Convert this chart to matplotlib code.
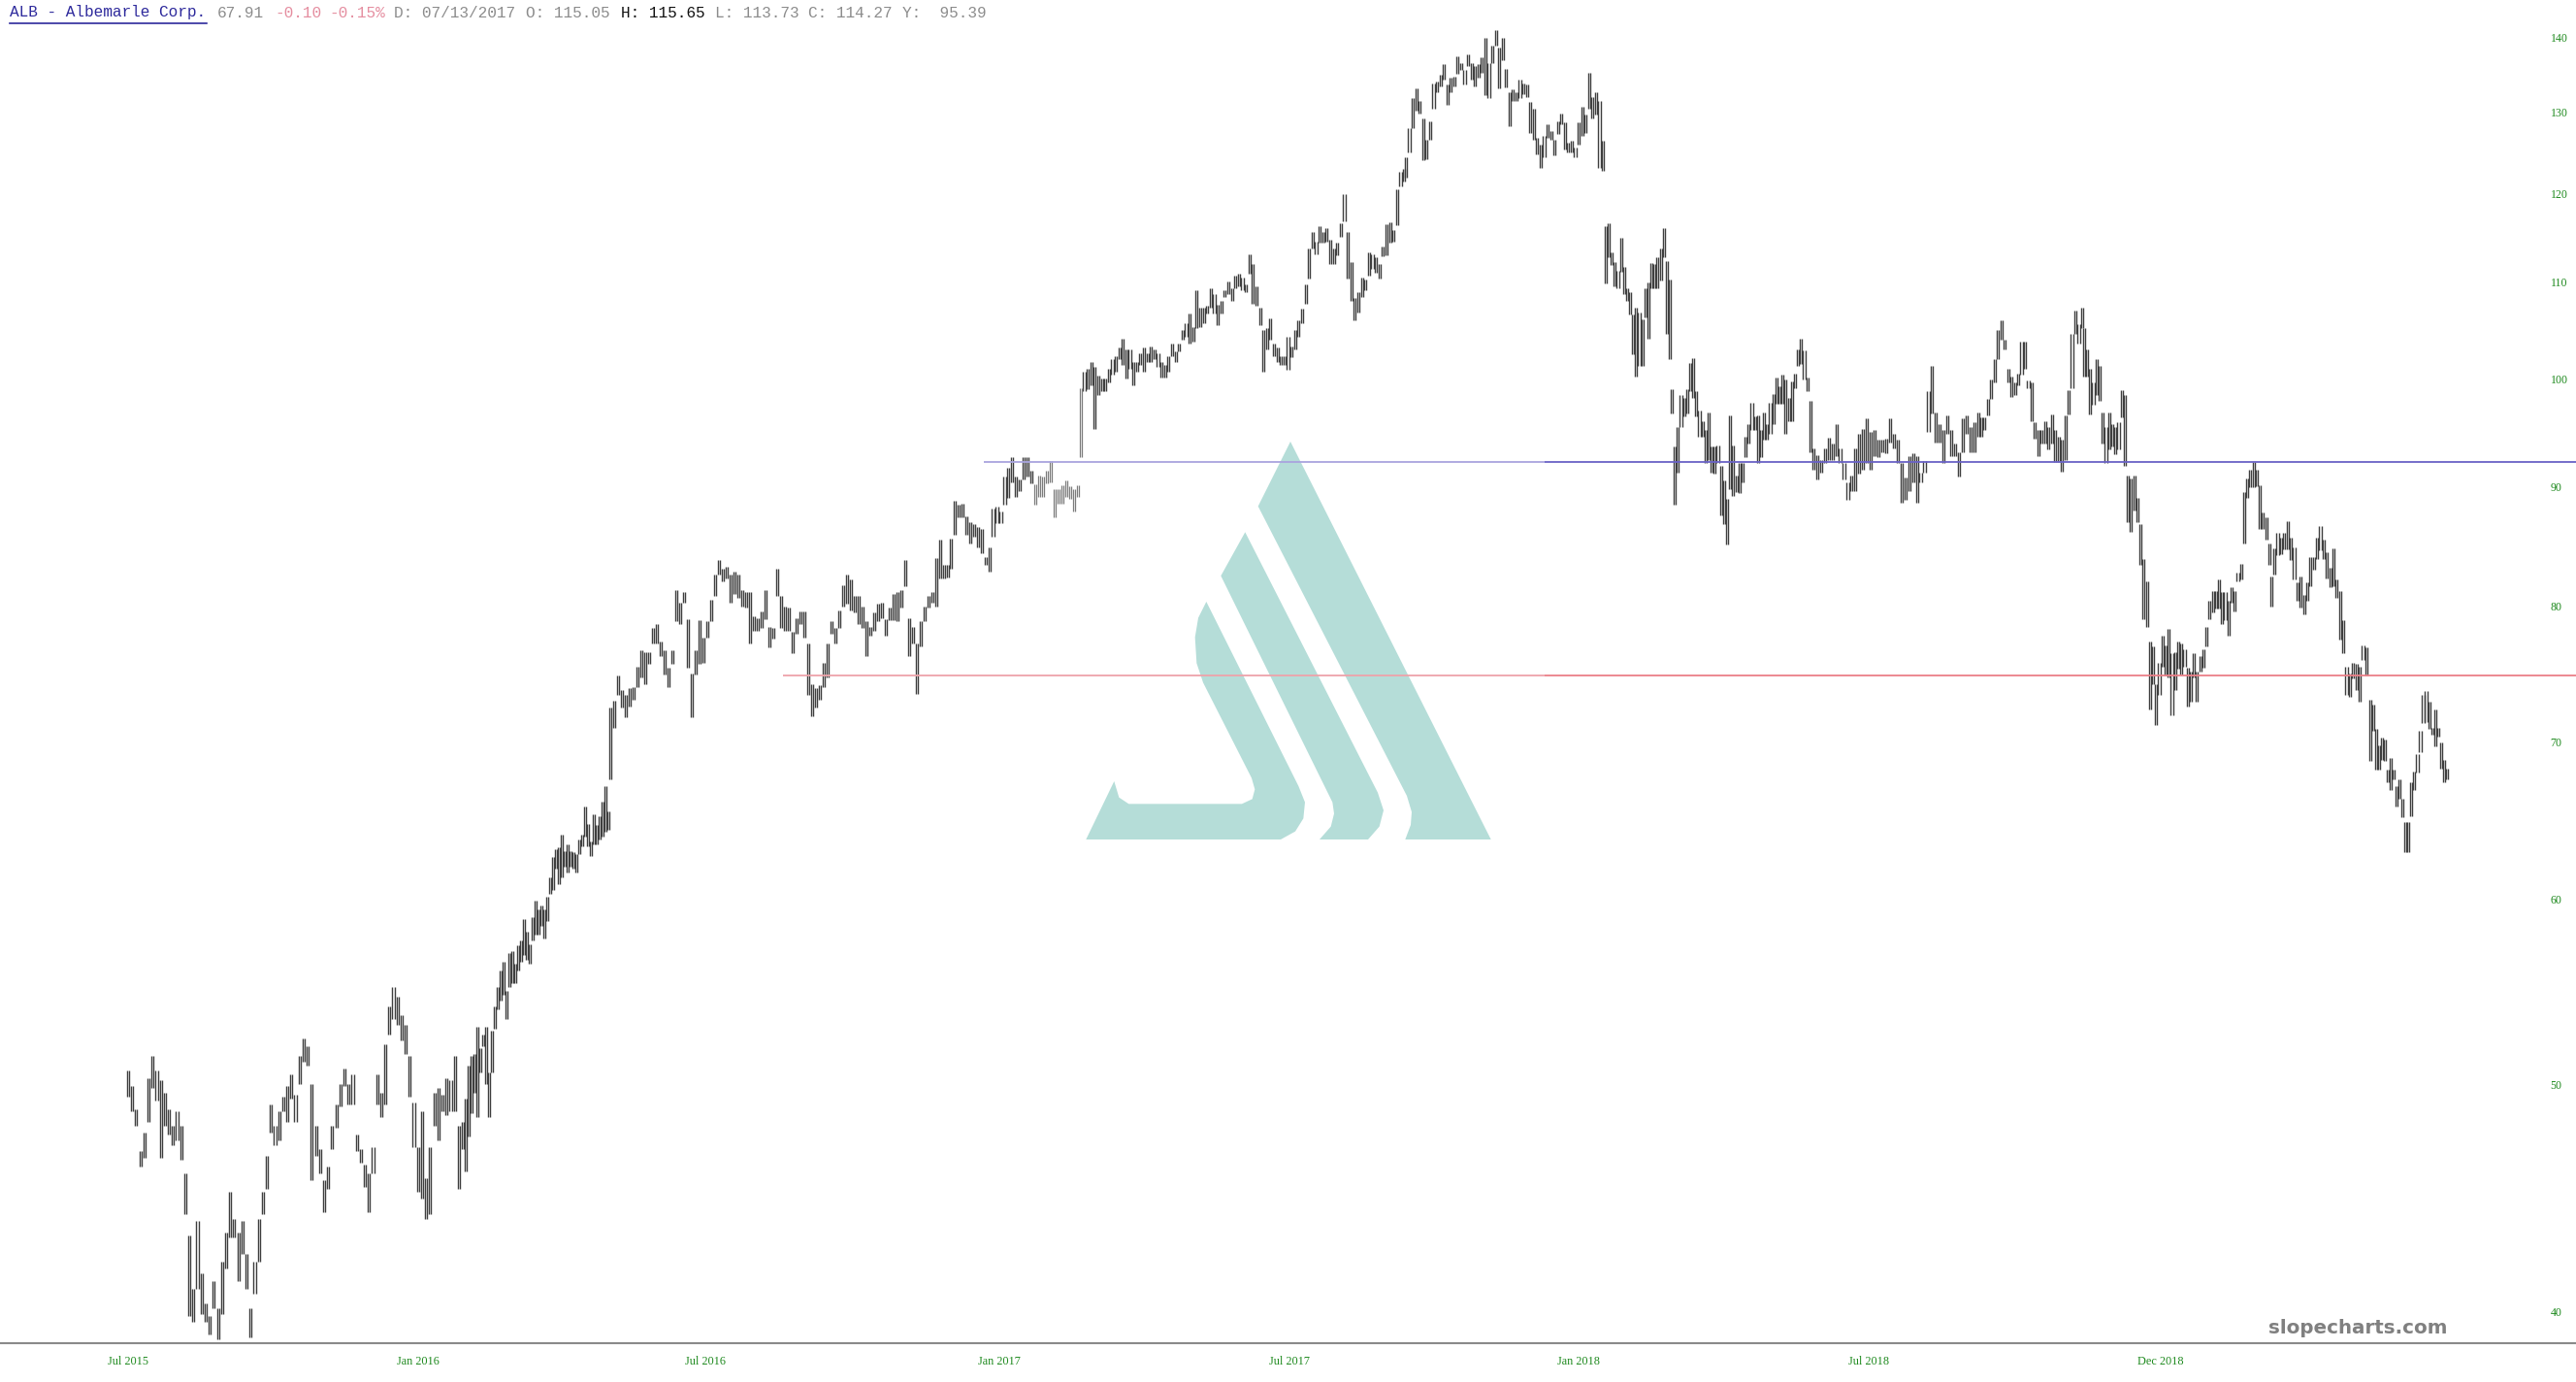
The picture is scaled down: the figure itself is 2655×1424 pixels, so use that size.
import numpy as np
import matplotlib
matplotlib.use("Agg")
import matplotlib.pyplot as plt
from matplotlib.patches import Polygon
from matplotlib.ticker import NullLocator, NullFormatter
from matplotlib.transforms import Affine2D

# (high, low) price readings, in chart order, one list per stretch of the chart
section_1 = [(50.7,49.4),(49.9,48.7),(48.8,48.0),(46.8,46.1),(47.7,46.5),(50.3,48.2),(51.4,49.8),(50.7,49.2),(50.2,46.5),(49.6,48.0),
(48.8,47.6),(48.0,47.1),(48.7,47.3),(48.0,46.4),(45.8,44.0),(43.1,39.8),(40.9,39.6),(43.7,40.9),(41.5,39.9),(40.3,39.6),
(39.8,39.1),(41.2,40.1),(40.1,38.9),(42.0,39.9),(43.2,41.7),(45.0,43.0),(43.8,43.0),(43.2,41.2),(43.7,42.3),(42.3,40.9),
(40.1,39.0),(42.0,40.7),(43.8,42.0),(45.0,44.0),(46.6,45.1),(49.0,47.7),(48.0,47.1),(48.7,47.3),(49.4,48.7),(49.9,48.2),
(50.5,49.3),(49.5,48.2),(51.4,50.0),(52.3,51.1),(51.9,50.9),(50.0,45.5),(48.0,46.6),(46.9,45.8),(45.5,44.1),(46.1,45.1),
(48.0,46.9),(49.0,47.9),(50.0,48.9),(50.8,49.9),(50.0,49.0),(50.5,49.0),(47.6,46.8),(46.9,46.3),(46.2,45.2),(45.8,44.1),
(47.0,45.8),(50.5,49.0),(49.6,48.4),(52.0,49.0),(54.0,52.5),(55.0,53.3),(54.5,53.0),(53.5,52.2),(53.0,51.5),(51.4,49.4),
(49.1,47.0),(47.0,45.0),(48.7,44.7),(45.6,43.8),(47.0,44.0),(49.6,48.0),(49.8,47.3),(49.5,48.7),(50.3,48.5),(50.2,48.7),
(51.4,48.7),(48.0,45.1),(48.2,46.9)]
section_2 = [(49.3,45.9),(50.9,47.5),(51.4,48.6),(51.5,49.6),(52.9,48.4),(51.8,50.6),(52.5,51.9),(52.9,50.0),(50.6,48.4),(52.7,50.6),
(54.0,52.8),(55.0,53.8),(55.9,54.3),(56.4,54.6),(54.8,53.3),(56.9,55.0),(57.0,55.2),(56.3,55.2),(57.3,55.9),(57.6,56.4),
(58.8,56.8),(58.1,56.5),(57.4,56.3),(58.9,57.6),(59.9,57.9),(59.4,57.9),(59.6,58.4),(59.4,57.7),(60.1,58.7),(61.3,60.3),
(62.5,60.5),(63.0,61.8),(63.1,60.9),(63.9,61.3),(62.9,61.9),(63.3,61.6),(62.9,61.9),(62.8,61.8),(62.7,61.6),(63.6,62.7),
(63.9,63.2),(65.7,63.8),(64.6,63.2),(63.5,62.6),(65.2,63.3),(64.5,63.3),(65.1,63.6),(66.0,63.8),(67.0,64.1),(65.4,64.2)]
section_3 = [(72.4,67.5),(72.9,71.0),(74.7,73.3),(73.7,72.4),(73.3,71.7),(73.8,72.5),(73.9,73.0),(75.4,73.9),(76.6,74.6),(76.5,74.1),
(76.5,75.6),(78.3,77.1),(78.6,77.1),(77.3,76.2),(76.6,74.8),(75.3,73.9),(76.6,75.6),(81.3,78.8),(80.3,78.6),(81.1,80.3),
(79.0,75.3),(74.9,71.7),(76.6,74.8),(78.9,75.6),(77.6,75.7),(78.8,77.6),(80.5,78.8),(82.5,80.8),(83.7,82.5),(83.0,82.0),
(83.2,82.2),(82.5,80.3),(82.8,81.0),(82.5,80.7),(81.3,80.0),(81.1,79.9),(81.1,77.1),(79.2,78.1),(79.1,78.1),(79.6,78.3),
(81.3,79.0),(78.4,76.8),(78.3,77.5),(83.0,80.8),(80.8,78.3),(80.0,78.1),(79.9,78.1),(78.0,76.4),(79.1,77.9),(79.6,78.6),
(79.6,77.6),(77.1,73.3),(74.1,71.8),(73.8,72.4),(74.0,73.0),(75.7,73.9),(77.1,74.6),(78.8,77.9),(78.3,77.1),(79.7,78.3),
(81.7,80.0),(82.5,80.2),(82.1,79.7),(80.8,79.5),(80.8,78.6),(80.0,78.3),(78.8,76.2),(78.4,77.7),(79.5,78.1),(80.2,78.8),
(80.3,79.1),(79.0,77.7),(79.9,78.9),(81.0,78.9),(81.1,78.8),(81.3,79.9),(83.7,81.6),(79.1,76.2),(78.4,77.1),(77.1,73.4),
(78.8,76.9),(80.0,78.8),(80.8,79.9),(81.1,80.3),(83.9,80.0),(85.4,82.2),(83.3,82.2),(83.3,82.3)]
section_4 = [(85.5,83.0),(88.7,85.8),(88.4,87.3),(88.5,87.3),(87.4,85.8),(86.9,85.1),(86.7,85.7),(86.5,84.8),(86.3,84.3),(84.0,83.3),
(84.8,82.8),(88.1,85.7),(88.2,86.8),(87.8,86.8),(90.9,88.4),(91.7,89.0),(92.6,90.4),(90.9,89.1),(90.6,89.6),(92.6,90.6),
(92.6,90.9),(91.4,90.3),(90.2,88.4),(91.0,89.1),(90.9,89.1),(91.4,90.3),(92.3,90.4),(89.8,87.3),(89.8,88.5),(90.1,88.5),
(90.5,89.1),(90.0,88.9),(89.8,87.8),(90.1,89.1)]
section_5 = [(99.1,92.6),(100.7,98.8),(101.0,99.0),(101.7,99.4),(101.2,95.2),(100.4,98.5),(100.1,98.8),(100.1,98.8),(101.0,99.7),(102.0,100.5),
(102.3,100.7),(103.2,102.0),(104.1,101.4),(103.0,100.1),(103.0,101.0),(101.7,99.4),(101.7,100.7),(102.6,101.4),(103.2,100.7),(102.6,101.7),
(103.3,101.7),(103.0,102.0),(102.6,101.2),(101.7,100.2),(101.4,100.2),(102.3,100.7),(103.6,102.3),(102.8,101.7),(103.6,102.8),(105.0,104.0),
(105.7,104.3),(106.7,103.6),(105.3,103.8),(109.2,105.2),(107.3,105.3),(107.3,105.7),(107.5,106.7),(109.4,107.3),(108.7,106.7),(107.6,105.5),
(108.0,106.7),(109.2,108.4),(110.1,108.7),(109.4,108.0),(110.7,109.4),(110.9,109.6),(110.5,109.2),(109.8,108.9),(113.1,110.9),(112.0,107.7),
(109.6,107.5),(107.3,105.5),(105.0,100.7),(105.2,103.0),(106.2,104.0),(103.6,102.3),(103.2,101.7),(102.3,101.4),(102.3,101.4),(104.3,100.9),
(103.3,102.2),(105.0,103.0),(106.0,104.3),(107.2,105.7),(109.8,107.7),(113.7,110.4),(115.6,113.7),(114.5,113.1),(116.2,114.4),(115.6,114.4),
(116.0,114.5),(114.7,112.0),(113.7,112.0),(114.4,113.0),(116.6,115.0),(120.0,116.8),(115.6,110.4),(112.2,108.0),(108.3,106.0),(109.0,106.8),
(110.5,108.4),(110.3,109.2),(113.3,110.7),(113.1,111.5),(112.8,111.1),(112.0,110.4),(113.9,112.9),(116.5,113.0),(116.7,114.4),(115.8,114.5),
(120.6,116.4),(122.6,120.9),(123.0,121.5)]
section_6 = [(124.4,121.9),(128.0,125.0),(131.8,128.0),(133.1,130.2),(131.5,129.9),(129.3,124.1),(126.6,124.2),(128.9,126.6),(133.8,130.5),(134.0,132.6),
(134.9,133.4),(136.4,134.3),(133.6,131.0),(134.5,132.6),(134.7,133.4),(137.4,135.1),(136.5,135.6),(135.6,133.6),(137.7,136.1),(136.5,134.3),
(136.1,133.4),(136.4,134.5),(137.2,135.2),(139.9,132.2),(136.5,131.8),(138.8,136.5),(141.0,138.8),(138.6,133.1),(139.9,136.8),(135.7,133.2),
(132.6,128.2),(133.0,131.5),(132.6,131.5),(134.3,131.8),(133.8,132.4),(133.6,132.0),(131.3,127.4),(130.5,126.6),(126.8,124.8),(126.0,123.1),
(127.0,124.4),(128.5,126.8),(127.7,126.6),(126.6,124.6),(128.9,127.3),(129.9,128.5),(128.7,125.4),(126.2,125.0),(126.4,125.0),(125.6,124.4),
(128.7,126.0),(130.7,127.0),(129.7,127.4),(135.2,130.5),(132.0,129.3),(132.6,129.7),(131.5,123.1),(126.4,122.8)]
section_7 = [(116.2,109.9),(116.6,112.8),(113.3,111.9),(112.2,109.6),(111.3,109.4),(114.9,111.2),(111.7,108.7),(109.4,108.0),(109.0,106.6),(106.6,102.5),
(107.3,100.3),(106.8,101.3),(106.1,101.3),(109.4,106.3),(110.0,104.1),(112.1,109.4),(112.0,109.4),(112.8,109.4),(113.7,110.2),(116.0,112.8),
(112.3,104.6),(110.3,102.0)]
section_8 = [(99.0,96.7),(93.6,88.4),(95.4,91.2),(98.5,95.4),(98.2,96.4),(99.0,96.7),(101.6,98.8),(102.1,98.2),
(98.8,96.4),(97.0,94.5),(96.0,94.5),(95.1,92.1),(96.8,92.4),(93.6,91.2),(93.6,91.1),(93.7,92.1),(91.8,87.5),(90.5,86.7),
(88.9,85.0),(96.5,89.8),(93.7,89.2),(91.0,89.5),(92.1,89.4),(92.1,90.4),(94.5,92.6),(95.7,93.9),(97.7,95.1),(96.4,95.1),
(96.5,92.1),(95.1,92.6),(96.8,94.2),(95.7,94.2),(97.7,94.8),(98.6,95.7),(100.2,97.6),(99.3,97.6),(100.5,97.6),(100.0,94.8),
(98.2,96.0),(99.8,96.0),(100.6,99.1),(103.0,101.3),(104.1,101.5),(102.9,100.0),(100.2,98.8),(97.9,93.1)]
section_9 = [(93.4,91.5),(92.8,90.6),
(92.4,91.2),(93.4,92.1),(94.4,92.4),(93.9,92.4),(95.7,92.7),(93.4,92.1),(92.1,90.6),(90.4,88.8),(91.0,89.6),(93.4,89.6),
(94.8,91.1),(95.2,91.5),(96.2,92.1),(95.0,91.5),(95.1,92.7),(94.2,92.6),(94.2,93.1),(94.3,93.0),(96.2,94.0),(94.8,93.4),
(94.2,92.1),(92.1,88.6),(90.8,88.8),(92.7,89.6),(93.0,90.4),(92.7,88.6),(91.2,90.4),(92.3,91.2),(98.8,95.0),(101.3,96.7),
(96.8,94.0),(95.7,94.0),(95.1,92.1),(96.5,94.8),(95.1,92.7),(93.9,92.7),(93.1,90.9),(96.2,93.1),(96.5,94.8),(95.4,93.1),
(95.9,93.1),(96.8,94.5)]
section_10 = [(96.3,94.5),(96.3,95.1),(98.1,96.5),(100.0,98.1),(102.0,99.7),(105.0,102.0),(106.0,104.0),(104.0,103.0),(101.0,99.7),(100.3,98.3),
(99.7,98.5),(100.6,99.4),(103.8,100.5),(103.8,101.0),(99.9,99.1),(99.7,96.0),(95.9,94.3),(95.1,92.7),(95.1,93.9),(96.0,93.9),
(95.4,93.3),(96.6,93.9),(95.1,92.2),(94.5,92.2),(94.2,91.3),(96.5,92.4),(98.9,96.6),(104.6,99.1),(107.0,104.6),(105.6,103.6),
(107.3,105.2)]
section_11 = [(105.2,100.3),(103.0,100.3),(101.0,96.6),(99.7,97.5),(102.0,98.5),(101.3,97.9),(96.8,93.9),(95.4,92.1),(96.8,93.3),
(95.7,93.6),(95.4,92.9),(95.9,93.3),(98.9,96.3),(98.5,91.8),(91.0,86.9),(90.7,86.1),(91.0,87.9),(89.0,86.9),(86.7,83.3),
(83.8,79.0),(82.0,78.4),(77.3,72.3),(76.9,74.1),(74.1,71.2),(75.7,73.3),(77.7,75.4),(77.0,74.7),(78.2,74.6),(76.4,71.9),
(76.5,73.7),(77.3,75.2),(77.1,74.8),(76.7,75.4),(75.3,72.5),(75.0,72.8),(76.4,74.6),(75.0,72.8),(76.2,75.0),(76.7,75.3),
(78.4,76.9),(80.4,79.0),(81.2,79.5),(81.2,79.8),(82.1,79.8),(81.1,78.6),(81.1,78.9),(80.4,77.7),(81.5,80.3),(81.2,79.6),
(82.7,82.0),(83.4,82.1),(89.5,85.1),(90.7,89.0),(91.5,89.9),(92.2,89.9),(91.5,90.0),(90.1,86.3),(87.7,86.3),(87.3,85.4),
(85.1,83.3)]
section_12 = [(82.4,80.0),(84.7,82.5),(86.0,84.1),(85.6,84.2),(86.0,84.6),(87.0,84.6),(85.6,83.7),(84.8,82.1),(81.9,80.4),(82.4,79.9),
(80.9,79.4),(81.9,80.4),(84.0,81.6),(84.0,82.9),(85.6,83.8),(86.6,84.5),(85.4,83.8),(84.4,82.2),(83.1,81.5),(84.7,81.6),
(82.1,80.7),(81.2,77.4),(78.9,76.4),(75.4,73.3),(74.9,73.2),(75.7,74.5),(75.6,73.7),(75.4,72.8),(77.0,75.9),(76.8,74.7)]
section_13 = [(73.0,68.7),(72.6,70.8),(70.9,68.1),(69.8,68.1),(70.3,68.8),(70.2,68.7),(68.1,67.3),(68.9,66.8),(68.1,67.5),(67.0,65.7),
(67.5,66.2),(66.2,65.0),(64.7,62.8),(64.7,62.8),(67.3,65.1),(68.0,66.8),(69.2,67.9),(70.8,69.3),(73.3,71.3),(73.6,71.4),
(72.8,70.9),(71.0,70.5),(72.3,69.7),(71.0,70.4),(70.0,68.2),(68.8,67.3),(68.2,67.5)]

# first and last trading day (counted from Jul 2015) each stretch covers
section_first_day = [0.0, 146.8, 209.7, 357.8, 414.3, 555.7, 642.6, 671.3, 732.9, 805.9, 850.6, 932.0, 975.1]
section_last_day = [145.6, 208.9, 356.5, 413.0, 554.9, 641.4, 670.5, 731.6, 804.6, 849.8, 931.2, 973.4, 1008.4]

date_days = [0, 126, 251, 379, 505, 631, 757, 884]
date_labels = ["Jul 2015", "Jan 2016", "Jul 2016", "Jan 2017", "Jul 2017", "Jan 2018", "Jul 2018", "Dec 2018"]
price_ticks = [40, 50, 60, 70, 80, 90, 100, 110, 120, 130, 140]

resistance_price = 92.2
support_price = 74.7
resistance_start_day, support_start_day, strong_line_day = 372, 285, 616

sections = [section_1, section_2, section_3, section_4, section_5, section_6, section_7, section_8, section_9,
            section_10, section_11, section_12, section_13]

W, H = 2655, 1424
fig = plt.figure(figsize=(W / 100, H / 100), dpi=100, facecolor="white")
AXIS_Y = 1384
ax = fig.add_axes([0, (H - AXIS_Y) / H, 1, AXIS_Y / H], facecolor="none", zorder=2)
ax.set_yscale("log")
ax.set_xlim(-55.7, 1064.6)
ax.set_ylim(38.76, 145.2)

bar_days, bar_high, bar_low = [], [], []
for sec, a, b in zip(sections, section_first_day, section_last_day):
    bar_days.append(np.linspace(a, b, len(sec)))
    bar_high.append([p[0] for p in sec])
    bar_low.append([p[1] for p in sec])
bar_days = np.concatenate(bar_days)
bar_high = np.concatenate(bar_high)
bar_low = np.concatenate(bar_low)
light = (bar_days > 394) & (bar_days < 415)


def draw_bars(mask, color, lw):
    # each reading stands for the two neighbouring daily bars it was read from
    for off in (-0.45, 0.45):
        ax.vlines(bar_days[mask] + off, bar_low[mask], bar_high[mask], color=color, linewidth=lw, zorder=3)


draw_bars(~light, "#3e3e3e", 1.0)
draw_bars(light, "#7c7c7c", 0.9)

xmax = ax.get_xlim()[1]
ax.hlines(resistance_price, resistance_start_day, strong_line_day, color="#a9a4de", linewidth=1.3, zorder=4)
ax.hlines(resistance_price, strong_line_day, xmax, color="#6a62c6", linewidth=1.3, zorder=4)
ax.hlines(support_price, support_start_day, strong_line_day, color="#eea3aa", linewidth=1.3, zorder=4)
ax.hlines(support_price, strong_line_day, xmax, color="#ea7f88", linewidth=1.3, zorder=4)

for s in ("top", "left", "right"):
    ax.spines[s].set_visible(False)
ax.spines["bottom"].set_color("#8a8a8a")
ax.spines["bottom"].set_linewidth(1.5)

green = "#1f8a1f"
serif = "Liberation Serif"
ax.set_xticks(date_days)
ax.set_xticklabels(date_labels, fontsize=8.8, family=serif, color=green)
ax.tick_params(axis="x", length=0, pad=9.5)
ax.yaxis.tick_right()
ax.set_yticks(price_ticks)
ax.set_yticklabels([str(v) for v in price_ticks], fontsize=8.6, family=serif, color=green)
ax.yaxis.set_minor_locator(NullLocator())
ax.yaxis.set_minor_formatter(NullFormatter())
ax.tick_params(axis="y", length=0, pad=-19)

# Watermark logo, in reference pixel coordinates (flipped for the canvas)
logo_tf = Affine2D().translate(1080 * 3, 430 * 3).scale(1 / 3).scale(1, -1).translate(0, H)
stripe_r = [(750,75),(1370,1305),(1105,1305),(1122,1260),(1125,1220),(1110,1170),(650,275)]
stripe_m = [(610,355),(1020,1160),(1038,1215),(1025,1265),(990,1305),(840,1305),(875,1265),(885,1225),(880,1190),(535,490)]
stripe_l = [(490,570),(775,1140),(795,1190),(790,1240),(765,1280),(720,1305),(118,1305),(205,1125),(220,1175),(250,1195),
            (600,1195),(632,1180),(640,1150),(630,1115),(480,820),(460,760),(455,680),(465,620)]
for pts in (stripe_r, stripe_m, stripe_l):
    fig.add_artist(Polygon(pts, closed=True, facecolor="#b5ddd8", edgecolor="none", transform=logo_tf, zorder=0))


def px_text(x, y, s, **kw):
    fig.text(x / W, 1 - y / H, s, va="center", ha="left", **kw)


mono = "Liberation Mono"
header = [(10, "ALB - Albemarle Corp.", "#2e2a9c"), (224, "67.91", "#8c8c8c"), (283, "-0.10", "#e58ea0"),
          (339, "-0.15%", "#e58ea0"), (406, "D: 07/13/2017", "#8c8c8c"), (542, "O: 115.05", "#8c8c8c"),
          (640, "H: 115.65", "#111111"), (737, "L: 113.73", "#8c8c8c"), (833, "C: 114.27", "#8c8c8c"),
          (930, "Y:  95.39", "#8c8c8c")]
for x, s, c in header:
    px_text(x, 13, s, family=mono, fontsize=11.6, color=c)
fig.add_artist(plt.Line2D([10 / W, 213 / W], [1 - 23.5 / H] * 2, color="#2e2a9c", linewidth=1.2))
px_text(2338, 1368, "slopecharts.com", family="DejaVu Sans", fontweight="bold", fontsize=14.3, color="#808080")

fig.savefig("out.png", dpi=100, facecolor="white")
